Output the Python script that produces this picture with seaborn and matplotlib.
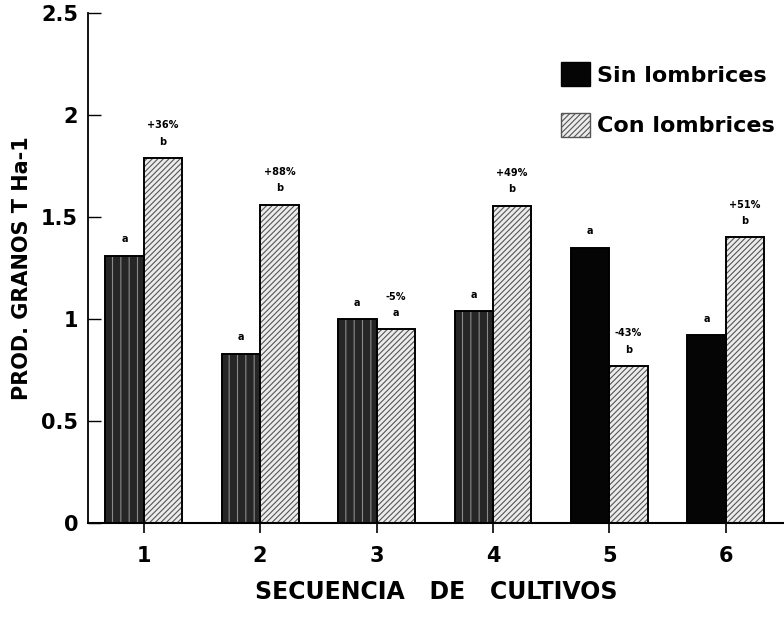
import matplotlib
matplotlib.use('Agg')
import matplotlib.pyplot as plt
import seaborn as sns
import pandas as pd
from matplotlib.patches import Patch

# --- DATA ---
secuencias = ["1", "2", "3", "4", "5", "6"]
sin_lombrices = [1.31, 0.83, 1.00, 1.04, 1.35, 0.92]
con_lombrices = [1.79, 1.56, 0.95, 1.555, 0.77, 1.40]
letras_sin = ["a", "a", "a", "a", "a", "a"]
letras_con = ["b", "b", "a", "b", "b", "b"]
cambios = ["+36%", "+88%", "-5%", "+49%", "-43%", "+51%"]
tratamientos = ["Sin lombrices", "Con lombrices"]

df = pd.DataFrame({
    "Secuencia": secuencias * 2,
    "Prod": sin_lombrices + con_lombrices,
    "Tratamiento": [tratamientos[0]] * 6 + [tratamientos[1]] * 6,
})

sns.set_style("ticks")
plt.rcParams['font.family'] = ['DejaVu Sans']
plt.rcParams['font.weight'] = 'bold'
plt.rcParams['text.color'] = 'black'
plt.rcParams['axes.labelcolor'] = 'black'
plt.rcParams['xtick.color'] = 'black'
plt.rcParams['ytick.color'] = 'black'
plt.rcParams['axes.edgecolor'] = 'black'
plt.rcParams['hatch.linewidth'] = 0.8

fig = plt.figure(figsize=(7.84, 6.18), dpi=100)
ax = fig.add_axes([0.112, 0.154, 0.888, 0.825])

sns.barplot(data=df, x="Secuencia", y="Prod", hue="Tratamiento",
            palette=["#2b2b2b", "#e6e6e6"], width=0.66, gap=0,
            saturation=1, legend=False, ax=ax)

# Textures: dark striped / solid black for "sin", light diagonal hatch for "con"
sin_bars, con_bars = ax.containers[0], ax.containers[1]
for i, bar in enumerate(sin_bars):
    if i < 4:
        bar.set_facecolor("#262626")
        bar.set_hatch("||")
        bar.set_edgecolor("#8a8a8a")
    else:
        bar.set_facecolor("#050505")
        bar.set_edgecolor("#050505")
    bar.set_linewidth(0)
for bar in con_bars:
    bar.set_facecolor("#ececec")
    bar.set_hatch("//////")
    bar.set_edgecolor("#555555")
    bar.set_linewidth(0)
# outlines
for bar in list(sin_bars) + list(con_bars):
    ax.add_patch(plt.Rectangle(bar.get_xy(), bar.get_width(), bar.get_height(),
                               fill=False, edgecolor="black", linewidth=1.4))

# letters and percentages
for i, bar in enumerate(sin_bars):
    ax.text(bar.get_x() + bar.get_width() / 2, bar.get_height() + 0.055,
            letras_sin[i], ha="center", va="bottom", fontsize=7, fontweight="bold")
for i, bar in enumerate(con_bars):
    cx = bar.get_x() + bar.get_width() / 2
    ax.text(cx, bar.get_height() + 0.055, letras_con[i],
            ha="center", va="bottom", fontsize=7, fontweight="bold")
    ax.text(cx, bar.get_height() + 0.135, cambios[i],
            ha="center", va="bottom", fontsize=7, fontweight="bold")

ax.set_ylim(0, 2.5)
ax.set_xlim(-0.48, 5.5)
ax.set_yticks([0, 0.5, 1, 1.5, 2, 2.5])
ax.set_yticklabels(["0", "0.5", "1", "1.5", "2", "2.5"])
ax.tick_params(axis="y", direction="in", length=9, width=1, labelsize=15, pad=7)
ax.tick_params(axis="x", direction="out", length=7, width=1.2, labelsize=15, pad=10)
for t in ax.get_xticklabels() + ax.get_yticklabels():
    t.set_fontweight("bold")

ax.set_xlabel("SECUENCIA   DE   CULTIVOS", fontsize=17, fontweight="bold")
ax.set_ylabel("PROD. GRANOS T Ha-1", fontsize=15, fontweight="bold")
ax.xaxis.set_label_coords(0.5, -0.112)
ax.yaxis.set_label_coords(-0.08, 0.5)

sns.despine(ax=ax)
ax.spines["left"].set_linewidth(1.3)
ax.spines["bottom"].set_linewidth(1.5)

handles = [Patch(facecolor="#050505", edgecolor="black"),
           Patch(facecolor="#ececec", edgecolor="#555555", hatch="//////")]
leg = ax.legend(handles, tratamientos, loc="upper right", bbox_to_anchor=(1.015, 0.943),
                frameon=False, fontsize=16, handlelength=1.3, handleheight=1.3,
                handletextpad=0.3, labelspacing=1.2)
for t in leg.get_texts():
    t.set_fontweight("bold")

plt.savefig("out.png", dpi=100)
plt.close()
